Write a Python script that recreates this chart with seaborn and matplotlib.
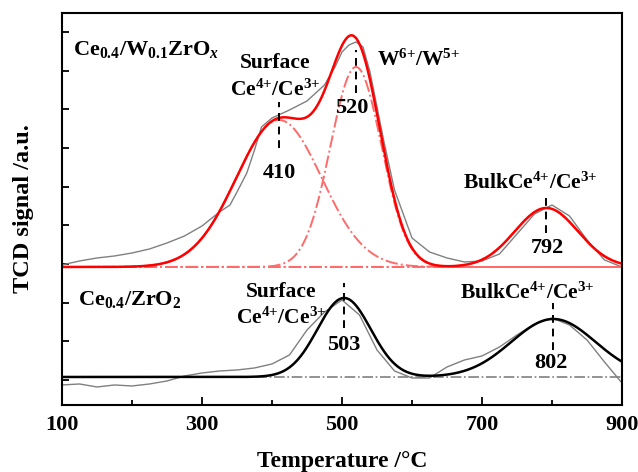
"""
H2-TPR profiles of Ce0.4/W0.1ZrOx and Ce0.4/ZrO2 with Gaussian peak deconvolution.
"""

import matplotlib
matplotlib.use("Agg")
import matplotlib.pyplot as plt
import numpy as np
import seaborn as sns

# --- raw TCD traces (signal above each curve's own baseline, a.u.) ---
temp_top = [100, 125, 150, 175, 200, 225, 250, 275, 300, 325, 340, 350, 364, 375,
            385, 400, 425, 450, 475, 490, 500, 510, 520, 530, 540, 550, 560, 575,
            600, 625, 650, 675, 700, 725, 750, 775, 800, 825, 850, 875, 900]
raw_top = [2, 6, 9, 11, 14, 18, 24, 31, 41, 55, 62, 75, 94, 117,
           140, 149, 157, 166, 182, 200, 215, 222, 225, 220, 195, 160, 125, 77,
           29, 15, 9, 5, 6, 13, 33, 53, 62, 51, 27, 7, 0]

temp_bot = [100, 125, 150, 175, 200, 225, 250, 275, 300, 325, 350, 375, 400, 425,
            450, 475, 500, 525, 550, 575, 600, 625, 650, 675, 700, 725, 750, 775,
            800, 825, 850, 875, 900]
raw_bot = [-8, -7, -10, -8, -9, -7, -4, 1, 4, 6, 7, 9, 13, 22,
           47, 65, 77, 62, 27, 6, -1, -1, 10, 17, 21, 30, 42, 53,
           59, 52, 37, 15, -6]

# --- fitted Gaussian peaks: centre (degC), height (a.u.), sigma (degC) ---
peak_top_center = [410, 520, 792]
peak_top_height = [147, 200, 59]
peak_top_sigma = [61, 36.4, 45]

peak_bot_center = [503, 802]
peak_bot_height = [79, 58]
peak_bot_sigma = [38, 60]

label_top = [410, 520, 792]
label_bot = [503, 802]

# vertical offsets of the two stacked profiles
offset_top = 138
offset_bot = 28

sns.set_style("ticks")
plt.rcParams["font.family"] = ["Liberation Serif", "DejaVu Serif"]
plt.rcParams["font.weight"] = "bold"
plt.rcParams["text.color"] = "black"
plt.rcParams["axes.edgecolor"] = "black"
plt.rcParams["xtick.color"] = "black"
plt.rcParams["ytick.color"] = "black"
plt.rcParams["axes.labelcolor"] = "black"
plt.rcParams["mathtext.fontset"] = "custom"
plt.rcParams["mathtext.rm"] = "Liberation Serif:bold"
plt.rcParams["mathtext.it"] = "Liberation Serif:bold:italic"
plt.rcParams["mathtext.bf"] = "Liberation Serif:bold"

LIGHT_RED = "#ff6b6b"
GRAY = "#808080"


def gauss(t, c, h, s):
    return h * np.exp(-((t - c) ** 2) / (2 * s ** 2))


t = np.linspace(100, 900, 801)

fig = plt.figure(figsize=(6.38, 4.72), dpi=100)
ax = fig.add_axes([0.0972, 0.142, 0.8777, 0.8305])

# ---- top sample: Ce0.4/W0.1ZrOx ----
sns.lineplot(x=temp_top, y=np.array(raw_top) + offset_top, ax=ax,
             color=GRAY, lw=1.0)
comps = [gauss(t, c, h, s) for c, h, s in
         zip(peak_top_center, peak_top_height, peak_top_sigma)]
for comp in comps:
    ax.plot(t, comp + offset_top, color=LIGHT_RED, lw=1.4, ls="-.")
ax.plot([100, 900], [offset_top, offset_top], color=LIGHT_RED, lw=1.4, ls="-.")
sns.lineplot(x=t, y=np.sum(comps, axis=0) + offset_top, ax=ax,
             color="red", lw=1.8)

# ---- bottom sample: Ce0.4/ZrO2 ----
sns.lineplot(x=temp_bot, y=np.array(raw_bot) + offset_bot, ax=ax,
             color=GRAY, lw=1.0)
ax.plot([100, 900], [offset_bot, offset_bot], color=GRAY, lw=1.2, ls="-.")
comps_b = [gauss(t, c, h, s) for c, h, s in
           zip(peak_bot_center, peak_bot_height, peak_bot_sigma)]
sns.lineplot(x=t, y=np.sum(comps_b, axis=0) + offset_bot, ax=ax,
             color="black", lw=1.8)

# ---- peak markers ----
dash_kw = dict(color="black", lw=1.4, ls=(0, (4, 3)))
fs = 16
fa = 15.5
ax.plot([label_top[0]] * 2, [257, 303], **dash_kw)
ax.text(label_top[0], 232, str(label_top[0]), ha="center", va="center", fontsize=fs)
ax.plot([label_top[1]] * 2, [312, 355], **dash_kw)
ax.text(label_top[1] - 6, 297, str(label_top[1]), ha="center", va="center", fontsize=fs)
ax.plot([label_top[2]] * 2, [172, 212], **dash_kw)
ax.text(label_top[2] + 2, 157, str(label_top[2]), ha="center", va="center", fontsize=fs)
ax.plot([label_bot[0]] * 2, [77, 122], **dash_kw)
ax.text(label_bot[0], 60, str(label_bot[0]), ha="center", va="center", fontsize=fs)
ax.plot([label_bot[1]] * 2, [55, 102], **dash_kw)
ax.text(label_bot[1] - 4, 42, str(label_bot[1]), ha="center", va="center", fontsize=fs)

# ---- sample and assignment labels ----
ion = r"Ce$^{4{+}}$/Ce$^{3{+}}$"
ax.text(116, 355, r"Ce$_{0.4}$/W$_{0.1}$ZrO$_{x}$", ha="left", va="center", fontsize=fs)
ax.text(404, 342, "Surface", ha="center", va="center", fontsize=fa)
ax.text(404, 315, ion, ha="center", va="center", fontsize=fa)
ax.text(550, 345, r"W$^{6{+}}$/W$^{5{+}}$", ha="left", va="center", fontsize=fa)
ax.text(769, 222, "Bulk" + ion, ha="center", va="center", fontsize=fa)

ax.text(123, 105, r"Ce$_{0.4}$/ZrO$_{2}$", ha="left", va="center", fontsize=fs)
ax.text(413, 113, "Surface", ha="center", va="center", fontsize=fa)
ax.text(413, 87, ion, ha="center", va="center", fontsize=fa)
ax.text(764, 112, "Bulk" + ion, ha="center", va="center", fontsize=fa)

# ---- axes ----
ax.set_xlim(100, 900)
ax.set_ylim(0, 392)
ax.set_xticks([100, 300, 500, 700, 900])
ax.set_xticks([200, 400, 600, 800], minor=True)
ax.set_yticks(25 + 38.67 * np.arange(10))
ax.set_yticklabels([])
ax.tick_params(axis="both", which="major", direction="in", length=6, width=1.3,
               labelsize=16, pad=7)
ax.tick_params(axis="x", which="minor", direction="in", length=3.5, width=1.3)
ax.tick_params(axis="y", which="major", length=5)
for lab in ax.get_xticklabels():
    lab.set_fontweight("bold")
for sp in ax.spines.values():
    sp.set_linewidth(1.5)
    sp.set_visible(True)

ax.set_xlabel("Temperature /°C", fontsize=17, fontweight="bold", labelpad=12)
ax.set_ylabel("TCD signal /a.u.", fontsize=17.5, fontweight="bold", labelpad=13)

fig.savefig("out.png", dpi=100)
